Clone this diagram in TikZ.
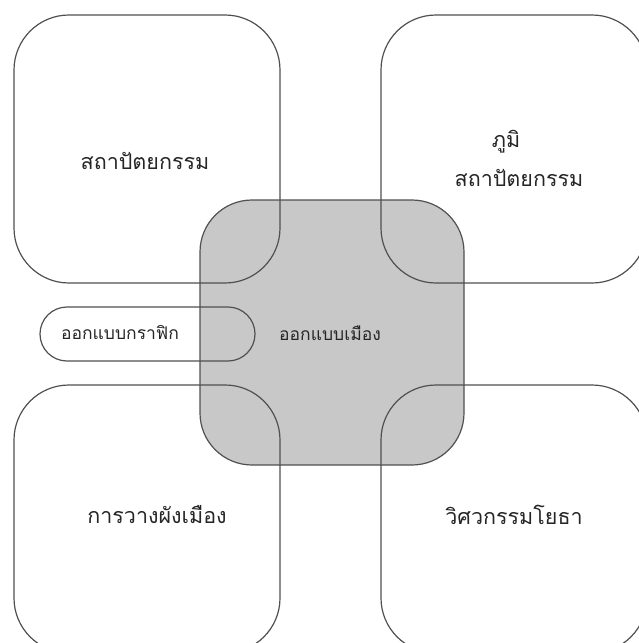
\documentclass[tikz,border=0pt]{standalone}
\usepackage{fontspec}
\newfontfamily\thaifont[Script=Thai]{Loma}
\definecolor{boxline}{HTML}{505050}
\definecolor{cityfill}{HTML}{C8C8C8}
\begin{document}
\begin{tikzpicture}[x=1pt,y=-1pt]
            % Base settings
            \tikzset{
              fieldbox/.style={draw=boxline, line width=1.2pt, rounded corners=55pt,
                minimum width=266pt, minimum height=268pt, inner sep=0pt},
              citybox/.style={fieldbox, fill=cityfill, rounded corners=52pt,
                minimum width=264pt, minimum height=265pt},
              pillbox/.style={draw=boxline, line width=1.2pt, rounded corners=27pt,
                minimum width=215pt, minimum height=54pt, inner sep=0pt},
              biglabel/.style={font=\thaifont\fontsize{21.5}{39}\selectfont, text=black!85, align=center},
              smalllabel/.style={font=\thaifont\fontsize{17.5}{21}\selectfont, text=black!85}
            }
            \useasboundingbox (0,0) rectangle (639,643);
            \clip (0,0) rectangle (639,643);

            % --- Centre box ---
            \node[citybox] (city) at (332,332.5) {};

            % --- Four fields ---
            \node[fieldbox] (arch) at (147,149) {};
            \node[fieldbox] (land) at (514,149) {};
            \node[fieldbox] (plan) at (147,519) {};
            \node[fieldbox] (civil) at (514,519) {};

            % --- Graphic design ---
            \node[pillbox] (graphic) at (147.5,334) {};

            % --- Labels ---
            \node[biglabel] (archtext) at (145,161) {สถาปัตยกรรม};
            \node[biglabel] (landtext) at (519,158) {ภูมิ\hspace*{26pt}\\สถาปัตยกรรม};
            \node[biglabel] (plantext) at (157,515) {การวางผังเมือง};
            \node[biglabel] (civiltext) at (514,515) {วิศวกรรมโยธา};
            \node[smalllabel] (graphictext) at (120,333) {ออกแบบกราฟิก};
            \node[smalllabel] (citytext) at (330,333) {ออกแบบเมือง};

            \end{tikzpicture}
\end{document}
